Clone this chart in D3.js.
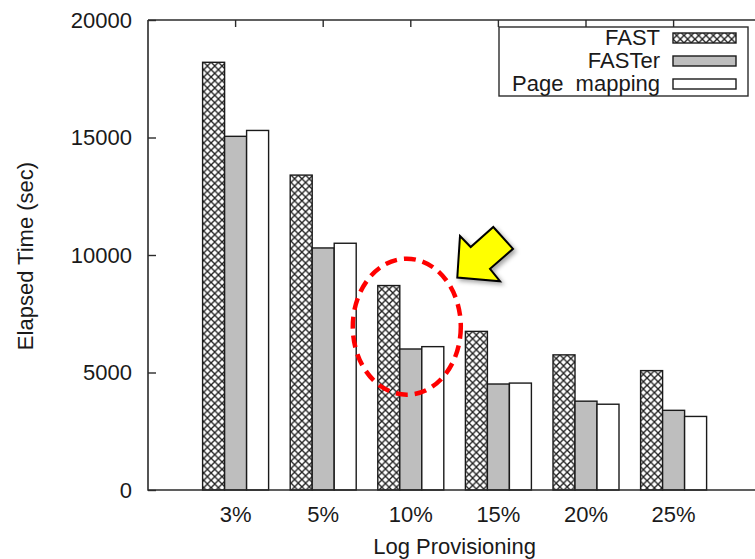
<!DOCTYPE html>
<html>
<head>
<meta charset="utf-8">
<script src="https://cdn.jsdelivr.net/npm/d3@7"></script>
<style>
  body { margin: 0; background: #fff; }
  svg { display: block; }
  text { font-family: "Liberation Sans", Arial, sans-serif; fill: #1a1a1a; }
</style>
</head>
<body>
<svg id="chart" width="755" height="559"></svg>
<script>
// Elapsed time per log-provisioning ratio, three FTL schemes
const categories = ["3%", "5%", "10%", "15%", "20%", "25%"];
const seriesNames = ["FAST", "FASTer", "Page  mapping"];
const fast        = [18200, 13400, 8700, 6750, 5750, 5080];
const faster      = [15050, 10300, 6000, 4510, 3780, 3390];
const pageMapping = [15300, 10500, 6100, 4550, 3650, 3130];
const yTicks = [0, 5000, 10000, 15000, 20000];

const seriesValues = [fast, faster, pageMapping];
const fills = ["hatch", "#bebebe", "#ffffff"];

const svg = d3.select("#chart");
const fontSize = 22;

// plot frame (right edge runs past the viewport)
const plotLeft = 148, plotTop = 20, plotBottom = 490, step = 87.6;
const plotRight = plotLeft + step * 7;

const x = d3.scaleBand()
  .domain(categories)
  .range([plotLeft + step * 0.5, plotLeft + step * 6.5])
  .paddingInner(0).paddingOuter(0);
const xSub = d3.scaleBand()
  .domain(seriesNames)
  .range([x.bandwidth() / 2 - 33, x.bandwidth() / 2 + 33]);
const y = d3.scaleLinear().domain([0, 20000]).range([plotBottom, plotTop]);

const bw = xSub.bandwidth();
const defs = svg.append("defs");

// crosshatch tile, one pattern per anchor so the diamonds line up with each bar
function hatchPattern(id, x0, y0) {
  const w = bw / 3, h = bw / 3;
  const p = defs.append("pattern")
    .attr("id", id)
    .attr("patternUnits", "userSpaceOnUse")
    .attr("x", x0).attr("y", y0)
    .attr("width", w).attr("height", h);
  p.append("rect").attr("width", w).attr("height", h).attr("fill", "#fff");
  p.append("path")
    .attr("d", `M0,0L${w},${h}M${w},0L0,${h}`)
    .attr("stroke", "#1e1e1e").attr("stroke-width", 1.3).attr("fill", "none");
  return `url(#${id})`;
}

const shadow = defs.append("filter").attr("id", "shadow")
  .attr("x", "-30%").attr("y", "-30%").attr("width", "160%").attr("height", "160%");
shadow.append("feDropShadow")
  .attr("dx", 2.5).attr("dy", 2.5).attr("stdDeviation", 2)
  .attr("flood-color", "#000").attr("flood-opacity", 0.35);

// bars
const rows = categories.map((c, i) => ({ cat: c, i }));
const groups = svg.append("g").selectAll("g")
  .data(rows).join("g")
  .attr("transform", d => `translate(${x(d.cat)},0)`);

groups.selectAll("rect")
  .data(d => seriesNames.map((s, k) => ({ s, k, cat: d.cat, i: d.i, v: seriesValues[k][d.i] })))
  .join("rect")
  .attr("x", d => xSub(d.s))
  .attr("y", d => y(d.v))
  .attr("width", bw)
  .attr("height", d => y(0) - y(d.v))
  .attr("fill", d => fills[d.k] === "hatch"
      ? hatchPattern("hatch" + d.i, x(d.cat) + xSub(d.s), y(d.v))
      : fills[d.k])
  .attr("stroke", "#1a1a1a")
  .attr("stroke-width", 1.4);

// frame lines
const frame = svg.append("g").attr("stroke", "#2b2b2b").attr("stroke-width", 1.6).attr("fill", "none");
frame.append("path").attr("d", `M${plotLeft},${plotTop}V${plotBottom}H${plotRight}`);
frame.append("path").attr("d", `M${plotLeft},${plotTop}H${plotRight}`);

// left axis with inward ticks
const yAxis = svg.append("g")
  .attr("transform", `translate(${plotLeft},0)`)
  .call(d3.axisLeft(y).tickValues(yTicks).tickFormat(d3.format("d"))
    .tickSize(-8).tickSizeOuter(0).tickPadding(16));
yAxis.select(".domain").remove();
yAxis.selectAll(".tick line").attr("stroke", "#2b2b2b").attr("stroke-width", 1.4);
yAxis.selectAll(".tick text")
  .attr("font-size", fontSize)
  .style("font-family", '"Liberation Sans", Arial, sans-serif')
  .attr("fill", "#1a1a1a");

// top mirror ticks
const topAxis = svg.append("g")
  .attr("transform", `translate(0,${plotTop})`)
  .call(d3.axisTop(x).tickSize(-7).tickSizeOuter(0).tickFormat(""));
topAxis.select(".domain").remove();
topAxis.selectAll(".tick line").attr("stroke", "#2b2b2b").attr("stroke-width", 1.4);

// bottom labels
const xAxis = svg.append("g")
  .attr("transform", `translate(0,${plotBottom})`)
  .call(d3.axisBottom(x).tickSize(0).tickPadding(16));
xAxis.select(".domain").remove();
xAxis.selectAll(".tick text")
  .attr("font-size", fontSize)
  .style("font-family", '"Liberation Sans", Arial, sans-serif')
  .attr("fill", "#1a1a1a");

// axis titles
svg.append("text")
  .attr("transform", `translate(33,256) rotate(-90)`)
  .attr("text-anchor", "middle")
  .attr("font-size", fontSize)
  .text("Elapsed Time (sec)");
svg.append("text")
  .attr("x", (plotLeft + plotRight) / 2).attr("y", 554)
  .attr("text-anchor", "middle")
  .attr("font-size", fontSize)
  .text("Log Provisioning");

// legend
const legend = svg.append("g");
legend.append("rect")
  .attr("x", 499).attr("y", 27).attr("width", 249).attr("height", 69)
  .attr("fill", "#fff").attr("stroke", "#2b2b2b").attr("stroke-width", 1.4);
seriesNames.forEach((s, k) => {
  legend.append("text")
    .attr("x", 660).attr("y", 45 + k * 23)
    .attr("text-anchor", "end")
    .attr("font-size", fontSize)
    .style("white-space", "pre")
    .attr("xml:space", "preserve")
    .text(s);
  const sx = 673, sy = 33 + k * 23;
  legend.append("rect")
    .attr("x", sx).attr("y", sy).attr("width", 63).attr("height", 10)
    .attr("fill", fills[k] === "hatch" ? hatchPattern("hatchKey", sx, sy - 1.2) : fills[k])
    .attr("stroke", "#1a1a1a").attr("stroke-width", 1.4);
});

// highlight around the 10% group
const hx = x("10%") + x.bandwidth() / 2 - 4;
const hy = y(6950);
svg.append("ellipse")
  .attr("cx", hx).attr("cy", hy).attr("rx", 54).attr("ry", 68)
  .attr("fill", "none").attr("stroke", "#ff0000")
  .attr("stroke-width", 4.5).attr("stroke-dasharray", "12 7");

// pointer arrow
const arrow = [[460, 236], [470.7, 247], [493.3, 227], [513, 248.8], [490, 268.8], [500, 281.2], [457.3, 277.5]];
svg.append("polygon")
  .attr("points", arrow.map(p => p.join(",")).join(" "))
  .attr("fill", "#ffff00").attr("stroke", "#000")
  .attr("stroke-width", 2).attr("stroke-linejoin", "miter")
  .attr("filter", "url(#shadow)");
</script>
</body>
</html>
